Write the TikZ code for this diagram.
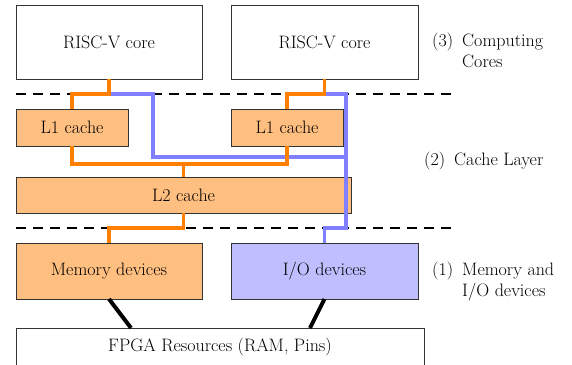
\documentclass[tikz,border=0pt]{standalone}
\usepackage{fontspec}
\usepackage{tikz}

\newcommand{\figfont}{\fontsize{18}{21}\selectfont}

\begin{document}
\begin{tikzpicture}[
    x=1pt, y=-1pt,
    every node/.style={font=\figfont},
    box/.style={rectangle, draw=black!80, line width=0.8pt, inner sep=0pt, outer sep=0pt},
    membox/.style={box, fill=orange!50},
    iobox/.style={box, fill=blue!25},
    sep/.style={line width=1.8pt, dash pattern=on 10pt off 7pt},
    memline/.style={orange, line width=3.5pt},
    ioline/.style={blue!50, line width=3.5pt},
    wire/.style={black, line width=4pt},
    layer/.style={anchor=north west, inner sep=0pt}
]
\useasboundingbox (0,0) rectangle (572,364);
\clip (0,0) rectangle (572,364);

% Computing cores
\node[box, minimum width=186pt, minimum height=74pt] (core1) at (109,42) {RISC-V core};
\node[box, minimum width=187pt, minimum height=74pt] (core2) at (324.5,42) {RISC-V core};

% Caches
\node[membox, minimum width=112pt, minimum height=37pt] (l1a) at (72,127.5) {L1 cache};
\node[membox, minimum width=112pt, minimum height=37pt] (l1b) at (287,127.5) {L1 cache};
\node[membox, minimum width=335pt, minimum height=36pt] (l2) at (183.5,195) {L2 cache};

% Devices
\node[membox, minimum width=186pt, minimum height=56pt] (mem) at (109,271) {Memory devices};
\node[iobox, minimum width=187pt, minimum height=56pt] (io) at (324.5,271) {I/O devices};
\node[box, minimum width=408pt, minimum height=38pt] (fpga) at (220,347) {FPGA Resources (RAM, Pins)};

% Layer borders
\draw[sep] (16,94) -- (454,94);
\draw[sep] (16,228) -- (454,228);

% I/O path
\draw[ioline] (core1.south) -- ++(0,15) -- ++(44,0) -- ++(0,63) -- ++(193,0);
\draw[ioline] (core2.south) -- ++(0,15) -- ++(21.5,0) -- ++(0,134) -| (io.north);

% Memory path
\draw[memline] (core1.south) -- ++(0,15) -| (l1a.north);
\draw[memline] (core2.south) -- ++(0,15) -| (l1b.north);
\draw[memline] (l1a.south) -- ++(0,18) -| (l1b.south);
\draw[memline] (l2.north) -- ++(0,-13);
\draw[memline] (l2.south) -- ++(0,15) -| (mem.north);

% FPGA links
\draw[wire] (mem.south) -- ([xshift=115pt]fpga.north west);
\draw[wire] (io.south) -- ([xshift=-114pt]fpga.north east);

% Layer labels
\node[layer] (lab3) at (432,32) {\begin{tabular}{@{}l@{\hspace{9pt}}l@{}}(3) & Computing\\ & Cores\end{tabular}};
\node[layer] (lab2) at (424,151) {\begin{tabular}{@{}l@{\hspace{9pt}}l@{}}(2) & Cache Layer\end{tabular}};
\node[layer] (lab1) at (432,261) {\begin{tabular}{@{}l@{\hspace{9pt}}l@{}}(1) & Memory and\\ & I/O devices\end{tabular}};

\end{tikzpicture}
\end{document}
